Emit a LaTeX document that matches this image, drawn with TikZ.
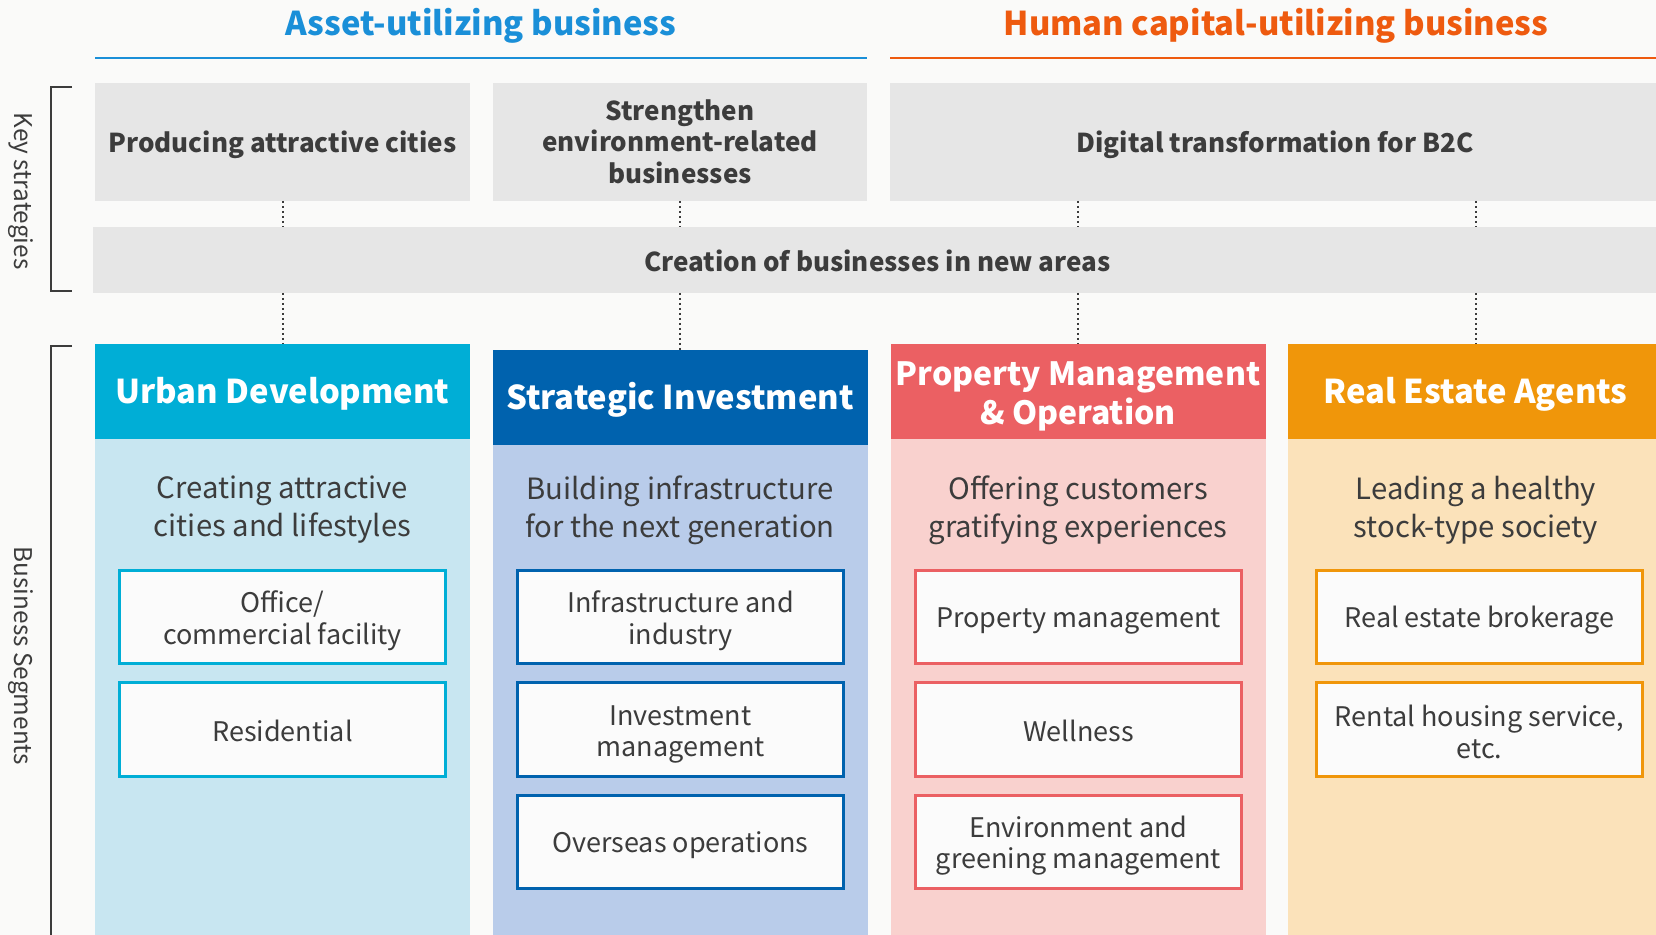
\documentclass[tikz,border=0pt]{standalone}
\usepackage{fontspec}
\setmainfont{Noto Sans CJK JP}
\definecolor{bg}{HTML}{FAFAF9}
\definecolor{graybox}{HTML}{E6E6E6}
\definecolor{txt}{HTML}{3C3C3C}
\definecolor{assetblue}{HTML}{1A8FD8}
\definecolor{humanorange}{HTML}{EE5A0F}
\definecolor{hA}{HTML}{00AED6}\definecolor{bA}{HTML}{C8E6F1}
\definecolor{hB}{HTML}{0062AE}\definecolor{bB}{HTML}{B9CCEA}
\definecolor{hC}{HTML}{EB6063}\definecolor{bC}{HTML}{F9D1CE}
\definecolor{hD}{HTML}{F0960A}\definecolor{bD}{HTML}{FBE2BA}
\definecolor{itembg}{HTML}{FBFBFB}
\newcommand\myfirst[1]{\rule{0pt}{#1}}
\begin{document}
\begin{tikzpicture}[x=0.5pt,y=-0.5pt,
  strat/.style={fill=graybox, text=txt, font=\bfseries\fontsize{13}{15.8}\selectfont, align=center, inner sep=0pt, outer sep=0pt, minimum height=59pt,
    execute at begin node={\rule{0pt}{13.2pt}}, execute at end node={\rule[-2pt]{0pt}{2pt}}},
  head/.style={fill=#1, text=white, font=\bfseries\fontsize{16.4}{19.5}\selectfont, align=center, inner sep=0pt, outer sep=0pt, minimum width=187.5pt, minimum height=47.5pt,
    execute at begin node={\rule{0pt}{17pt}}, execute at end node={\rule[-5pt]{0pt}{5pt}}},
  body/.style={fill=#1, inner sep=0pt, outer sep=0pt, minimum width=187.5pt},
  subt/.style={text=txt, font=\fontsize{14.65}{19}\selectfont, align=center, inner sep=0pt},
  item/.style={draw=#1, fill=itembg, line width=1.5pt, text=txt, font=\fontsize{13.5}{15.9}\selectfont, align=center, inner sep=0pt, minimum width=163pt, minimum height=46.5pt,
    execute at begin node={\rule{0pt}{14pt}}, execute at end node={\rule[-2pt]{0pt}{2pt}}},
  dotline/.style={draw=txt, line width=1pt, dash pattern=on 1pt off 1.5pt},
  bracket/.style={draw=txt, line width=0.8pt},
  side/.style={text=txt, font=\fontsize{12.2}{14}\selectfont, rotate=-90, inner sep=0pt},
  maintitle/.style={font=\bfseries\fontsize{16.4}{20}\selectfont, inner sep=0pt}
]
\useasboundingbox (0,0) rectangle (1656,935);
\clip (0,0) rectangle (1656,935);
\fill[bg] (0,0) rectangle (1656,935);

% titles
\node[maintitle, text=assetblue] (tA) at (481,26) {Asset-utilizing business};
\node[maintitle, text=humanorange] (tH) at (1276,26) {Human capital-utilizing business};
\coordinate (lA1) at (95,58); \coordinate (lA2) at (867,58);
\coordinate (lH1) at (890,58); \coordinate (lH2) at (1660,58);
\draw[assetblue, line width=1.2pt] (lA1) -- (lA2);
\draw[humanorange, line width=1.2pt] (lH1) -- (lH2);

% key strategies
\node[strat, minimum width=187.5pt] (s1) at (282.5,142) {Producing attractive cities};
\node[strat, minimum width=187pt] (s2) at (680,142) {\myfirst{12pt}Strengthen\\environment-related\\businesses};
\node[strat, minimum width=385pt] (s3) at (1275,142) {Digital transformation for B2C};
\node[strat, minimum width=785pt, minimum height=33pt] (new) at (877.5,260) {Creation of businesses in new areas};

% headers
\node[head=hA] (h1) at (282.5,391.5) {Urban Development};
\node[head=hB] (h2) at (680,397.5) {Strategic Investment};
\node[head=hC, font=\bfseries\fontsize{16}{19.5}\selectfont] (h3) at (1078,391.5) {\myfirst{18.8pt}Property Management\\\& Operation};
\node[head=hD] (h4) at (1475.5,391.5) {Real Estate Agents};

% bodies
\node[body=bA, minimum height=250.5pt, anchor=north] (b1) at (h1.south) {};
\node[body=bB, minimum height=247.5pt, anchor=north] (b2) at (h2.south) {};
\node[body=bC, minimum height=250.5pt, anchor=north] (b3) at (h3.south) {};
\node[body=bD, minimum height=250.5pt, anchor=north] (b4) at (h4.south) {};

% dotted connectors
\draw[dotline] (s1.south) -- (new.north -| s1.south);
\draw[dotline] (s2.south) -- (new.north -| s2.south);
\draw[dotline] (s3.south -| h3.north) -- (new.north -| h3.north);
\draw[dotline] (s3.south -| h4.north) -- (new.north -| h4.north);
\draw[dotline] (new.south -| h1.north) -- (h1.north);
\draw[dotline] (new.south -| h2.north) -- (h2.north);
\draw[dotline] (new.south -| h3.north) -- (h3.north);
\draw[dotline] (new.south -| h4.north) -- (h4.north);

% subtitles
\node[subt] (u1) at (282.5,510) {Creating attractive\\cities and lifestyles};
\node[subt] (u2) at (680,510) {Building infrastructure\\for the next generation};
\node[subt] (u3) at (1078,510) {Offering customers\\gratifying experiences};
\node[subt] (u4) at (1476,510) {Leading a healthy\\stock-type society};

% items
\node[item=hA] (i11) at (282.5,617) {\myfirst{14.8pt}Office/\\commercial facility};
\node[item=hA] (i12) at (282.5,729.5) {Residential};
\node[item=hB] (i21) at (680.5,617) {\myfirst{14.8pt}Infrastructure and\\industry};
\node[item=hB] (i22) at (680.5,729.5) {\myfirst{14.8pt}Investment\\management};
\node[item=hB] (i23) at (680.5,841.5) {Overseas operations};
\node[item=hC] (i31) at (1078.5,617) {Property management};
\node[item=hC] (i32) at (1078.5,729.5) {Wellness};
\node[item=hC] (i33) at (1078.5,841.5) {\myfirst{14.8pt}Environment and\\greening management};
\node[item=hD] (i41) at (1479.5,617) {Real estate brokerage};
\node[item=hD] (i42) at (1479.5,729.5) {\myfirst{14.8pt}Rental housing service,\\etc.};

% side brackets and labels
\coordinate (k1) at (72,87); \coordinate (k2) at (51,87);
\coordinate (k3) at (51,291); \coordinate (k4) at (72,291);
\draw[bracket] (k1) -- (k2) -- (k3) -- (k4);
\coordinate (g1) at (72,346); \coordinate (g2) at (51,346); \coordinate (g3) at (51,945);
\draw[bracket] (g1) -- (g2) -- (g3);
\node[side] (ks) at (21,191) {Key strategies};
\node[side] (bs) at (21,656) {Business Segments};
\end{tikzpicture}
\end{document}
